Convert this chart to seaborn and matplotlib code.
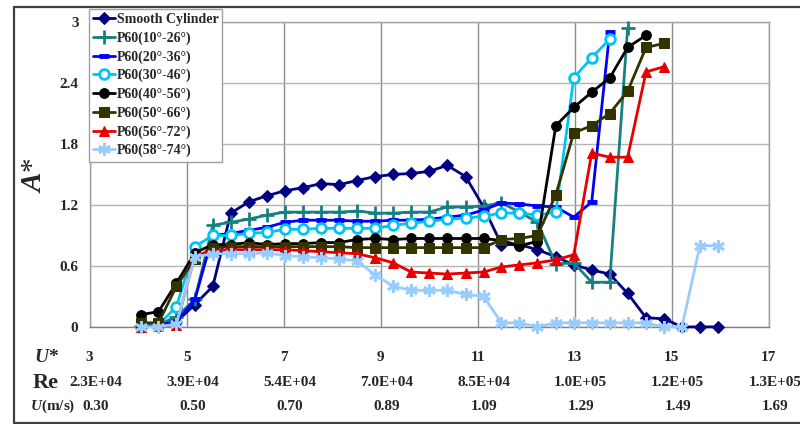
import matplotlib
matplotlib.use("Agg")
import matplotlib.pyplot as plt
from matplotlib.lines import Line2D
from matplotlib.transforms import blended_transform_factory, offset_copy
import pandas as pd
import seaborn as sns

# reduced velocity U* of each test point
u_star = [4.05, 4.42, 4.79, 5.17, 5.54, 5.91, 6.28, 6.65, 7.03, 7.40, 7.77,
          8.14, 8.51, 8.89, 9.26, 9.63, 10.00, 10.37, 10.75, 11.12, 11.49,
          11.86, 12.23, 12.61, 12.98, 13.35, 13.72, 14.09, 14.47, 14.84,
          15.21, 15.58, 15.95]

smooth = [0.01, 0.02, 0.05, 0.22, 0.40, 1.12, 1.23, 1.29, 1.34, 1.37, 1.41,
          1.40, 1.44, 1.48, 1.50, 1.51, 1.53, 1.59, 1.48, 1.18, 0.81, 0.81,
          0.76, 0.69, 0.61, 0.56, 0.52, 0.33, 0.09, 0.08, 0.0, 0.0, 0.0]
p10_26 = [0.01, 0.02, 0.10, 0.27, 1.00, 1.03, 1.06, 1.10, 1.13, 1.13, 1.13,
          1.13, 1.14, 1.12, 1.12, 1.13, 1.13, 1.18, 1.18, 1.19, 1.22, 1.13,
          1.03, 0.62, 0.63, 0.44, 0.44, 2.94]
p20_36 = [0.0, 0.02, 0.05, 0.27, 0.90, 0.92, 0.95, 0.98, 1.03, 1.05, 1.05,
          1.05, 1.04, 1.04, 1.05, 1.05, 1.06, 1.08, 1.10, 1.15, 1.22, 1.21,
          1.19, 1.18, 1.08, 1.23, 2.90]
p30_46 = [0.0, 0.02, 0.20, 0.79, 0.90, 0.90, 0.92, 0.93, 0.96, 0.96, 0.97,
          0.97, 0.97, 0.97, 1.00, 1.02, 1.04, 1.06, 1.07, 1.09, 1.12, 1.12,
          1.10, 1.13, 2.45, 2.65, 2.83]
p40_56 = [0.12, 0.15, 0.43, 0.73, 0.81, 0.81, 0.83, 0.81, 0.82, 0.82, 0.83,
          0.83, 0.86, 0.87, 0.86, 0.87, 0.87, 0.87, 0.87, 0.87, 0.85, 0.80,
          0.84, 1.98, 2.16, 2.31, 2.45, 2.75, 2.87]
p50_66 = [0.04, 0.04, 0.40, 0.67, 0.78, 0.79, 0.79, 0.79, 0.79, 0.79, 0.79,
          0.79, 0.78, 0.78, 0.78, 0.78, 0.78, 0.78, 0.78, 0.78, 0.86, 0.87,
          0.90, 1.30, 1.91, 1.98, 2.10, 2.32, 2.75, 2.79]
p56_72 = [0.0, 0.01, 0.02, 0.70, 0.75, 0.76, 0.76, 0.76, 0.76, 0.75, 0.74,
          0.73, 0.72, 0.68, 0.63, 0.54, 0.53, 0.52, 0.53, 0.54, 0.59, 0.61,
          0.63, 0.66, 0.71, 1.71, 1.67, 1.67, 2.51, 2.56]
p58_74 = [0.0, 0.0, 0.03, 0.69, 0.72, 0.72, 0.72, 0.73, 0.70, 0.69, 0.68,
          0.67, 0.65, 0.51, 0.40, 0.36, 0.36, 0.36, 0.32, 0.30, 0.04, 0.04,
          0.0, 0.04, 0.04, 0.04, 0.04, 0.04, 0.04, 0.0, 0.0, 0.80, 0.80]

labels = ["Smooth Cylinder", "P60(10°-26°)", "P60(20°-36°)", "P60(30°-46°)",
          "P60(40°-56°)", "P60(50°-66°)", "P60(56°-72°)", "P60(58°-74°)"]

x_ticks = [3, 5, 7, 9, 11, 13, 15, 17]
re_labels = ["2.3E+04", "3.9E+04", "5.4E+04", "7.0E+04", "8.5E+04",
             "1.0E+05", "1.2E+05", "1.3E+05"]
u_labels = ["0.30", "0.50", "0.70", "0.89", "1.09", "1.29", "1.49", "1.69"]
y_ticks = [0, 0.6, 1.2, 1.8, 2.4, 3]
y_tick_labels = ["0", "0.6", "1.2", "1.8", "2.4", "3"]

sns.set_style("white")
plt.rcParams["font.family"] = ["Liberation Serif", "DejaVu Serif"]
plt.rcParams["font.weight"] = "bold"
plt.rcParams["mathtext.fontset"] = "custom"
plt.rcParams["mathtext.it"] = "Liberation Serif:italic:bold"
plt.rcParams["mathtext.rm"] = "Liberation Serif:bold"

styles = [
    dict(color="#000080", marker="D", markersize=6),
    dict(color="#168080", marker="+", markersize=10, markeredgewidth=2),
    dict(color="#0000ff", marker="_", markersize=7, markeredgewidth=3.5),
    dict(color="#00c4f4", marker="o", markersize=7, markerfacecolor="white",
         markeredgewidth=2),
    dict(color="black", marker="o", markersize=7),
    dict(color="#333300", marker="s", markersize=7),
    dict(color="#e80000", marker="^", markersize=7),
    dict(color="#99ccff", marker=(6, 2, 0), markersize=9, markeredgewidth=2),
]

series = [smooth, p10_26, p20_36, p30_46, p40_56, p50_66, p56_72, p58_74]

fig = plt.figure(figsize=(8, 4.24), dpi=100)
ax = fig.add_axes([0.112, 0.229, 0.849, 0.719])

for vals, lab, st in zip(series, labels, styles):
    df = pd.DataFrame({"U": u_star[:len(vals)], "A": vals})
    sns.lineplot(data=df, x="U", y="A", ax=ax, label=lab, linewidth=2,
                 markeredgecolor=st["color"], clip_on=False, zorder=3, **st)

ax.set_xlim(3, 17)
ax.set_ylim(0, 3)
ax.set_xticks(x_ticks)
ax.set_xticklabels([])
ax.set_yticks(y_ticks)
ax.set_yticklabels(y_tick_labels, fontsize=11, fontweight="bold")
ax.tick_params(axis="x", length=5, color="#808080", direction="out")
ax.tick_params(axis="y", length=4, color="#808080", direction="out", pad=4)
ax.xaxis.grid(True, color="#8c8c8c", linewidth=1)
ax.yaxis.grid(True, color="#b4b4b4", linewidth=1)
ax.set_axisbelow(True)
for s in ax.spines.values():
    s.set_color("#a0a0a0")
    s.set_linewidth(1)
ax.spines["bottom"].set_color("#808080")
ax.set_xlabel("")
ax.set_ylabel("$A$*", fontsize=21, rotation=90, labelpad=4)
ax.yaxis.set_label_coords(-0.062, 0.5)

# three-row x scale: U*, Re, U(m/s)
trans = blended_transform_factory(ax.transData, ax.transAxes)
shifted = offset_copy(trans, fig=fig, x=6, y=0, units="dots")
for xt, re, u in zip(x_ticks, re_labels, u_labels):
    ax.text(xt, -0.102, str(xt), transform=trans, ha="center", va="center",
            fontsize=11)
    ax.text(xt, -0.184, re, transform=shifted, ha="center", va="center",
            fontsize=11)
    ax.text(xt, -0.262, u, transform=shifted, ha="center", va="center",
            fontsize=11)
ax.text(-0.082, -0.102, "$U$*", transform=ax.transAxes, ha="left",
        va="center", fontsize=14)
ax.text(-0.084, -0.184, "Re", transform=ax.transAxes, ha="left",
        va="center", fontsize=16)
ax.text(-0.088, -0.262, "$U$(m/s)", transform=ax.transAxes, ha="left",
        va="center", fontsize=11)

leg = ax.legend(loc="upper left", bbox_to_anchor=(0.111, 0.979),
                bbox_transform=fig.transFigure, borderaxespad=0,
                fontsize=10, handlelength=1.6, handletextpad=0.1,
                labelspacing=0.38, borderpad=0.3, fancybox=False,
                framealpha=1, edgecolor="#a0a0a0")
for t in leg.get_texts():
    t.set_fontweight("bold")

# outer chart border
bc = "#404040"
fig.add_artist(Line2D([14 / 800, 14 / 800], [1.5 / 424, 1 - 7 / 424],
                      transform=fig.transFigure, color=bc, linewidth=1.6))
fig.add_artist(Line2D([14 / 800, 1], [1 - 7 / 424, 1 - 7 / 424],
                      transform=fig.transFigure, color=bc, linewidth=1.6))
fig.add_artist(Line2D([14 / 800, 1], [1.5 / 424, 1.5 / 424],
                      transform=fig.transFigure, color=bc, linewidth=1.6))

fig.savefig("out.png", dpi=100)
